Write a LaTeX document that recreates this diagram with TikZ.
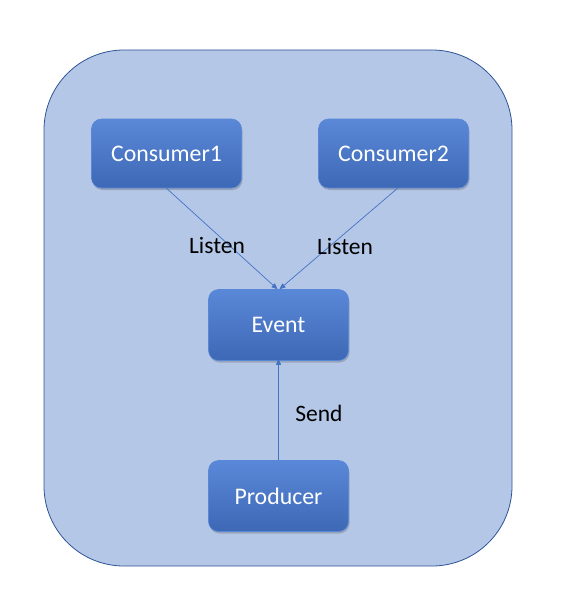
\documentclass[tikz,border=0pt]{standalone}
\usepackage{fontspec}
\setmainfont{Carlito}
\usetikzlibrary{arrows.meta,shadows}
\definecolor{outerfill}{HTML}{B4C7E7}
\definecolor{outerline}{HTML}{2F5597}
\definecolor{boxfill}{HTML}{4472C4}
\definecolor{boxtop}{HTML}{5A88D8}
\definecolor{boxbot}{HTML}{3D68B5}
\tikzset{
  outer/.style={draw=outerline, fill=outerfill, rounded corners=80pt, line width=0.8pt},
  box/.style={rounded corners=10pt, top color=boxtop, bottom color=boxbot, draw=boxtop, line width=0.6pt,
    minimum width=150pt, minimum height=69pt, inner sep=0pt,
    text=white, font=\fontsize{23.8}{26}\selectfont,
    drop shadow={shadow xshift=1pt, shadow yshift=-2pt, opacity=0.35, fill=black!60}},
  smallbox/.style={box, minimum width=140pt, minimum height=71pt},
  conn/.style={draw=boxfill, line width=0.7pt, -{Triangle[length=6pt,width=5pt]}},
  lbl/.style={font=\fontsize{23.5}{26}\selectfont, text=black}
}
\begin{document}
\begin{tikzpicture}[x=1pt,y=-1pt]
\useasboundingbox (0,0) rectangle (576,594);
\fill[white] (0,0) rectangle (576,594);
\path[outer] (44,50) rectangle (512,566);
\node[box] (c1) at (166.5,153.5) {Consumer1};
\node[box] (c2) at (393.5,153.5) {Consumer2};
\node[smallbox] (ev) at (278.5,325) {Event};
\node[smallbox] (pr) at (278.5,496) {Producer};
\draw[conn] (c1.south) -- ([xshift=-1pt]ev.north);
\draw[conn] ([xshift=4pt]c2.south) -- ([xshift=1pt]ev.north);
\draw[conn] (pr.north) -- ([yshift=2pt]ev.south);
\node[lbl] (l1) at (217,245) {Listen};
\node[lbl] (l2) at (345,246) {Listen};
\node[lbl] (l3) at (319,413) {Send};
\end{tikzpicture}
\end{document}
